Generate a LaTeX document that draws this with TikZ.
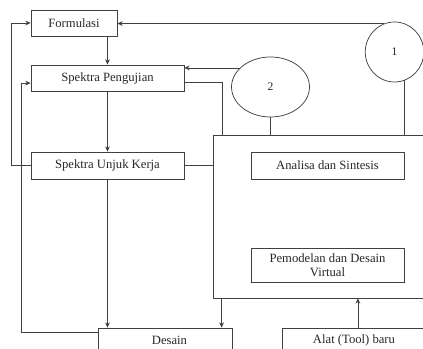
\documentclass[tikz,border=0pt]{standalone}
\usepackage{fontspec}
\setmainfont{Liberation Serif}
\usepackage{xcolor}
\usetikzlibrary{shapes.geometric,arrows.meta}

\begin{document}
\begin{tikzpicture}[
    box/.style={draw=black!75, line width=0.7pt, minimum height=0.87cm,
                align=center, text=black!85, font=\fontsize{12}{13.5}\selectfont},
    bulat/.style={draw=black!75, line width=0.7pt, ellipse, inner sep=0pt,
                  text=black!85, font=\fontsize{11}{13}\selectfont},
    garis/.style={draw=black!75, line width=0.7pt},
    arrow/.style={-{Stealth[length=5pt,width=4.5pt]}, garis}
  ]
    \useasboundingbox (0,0) rectangle (14.1,11.633);
    \clip (0,0) rectangle (14.1,11.633);

    \node[box, minimum width=2.867cm] (form) at (2.467,10.867) {Formulasi};
    \node[box, minimum width=5.1cm] (uji) at (3.583,9.033) {Spektra Pengujian};
    \node[box, minimum width=5.1cm, minimum height=0.9cm] (unjuk) at (3.583,6.117) {Spektra Unjuk Kerja};

    % kotak besar (analisa + pemodelan)
    \node[garis, minimum width=7.567cm, minimum height=5.433cm, inner sep=0pt] (proses) at (10.883,4.417) {};
    \node[box, minimum width=5.1cm, minimum height=0.9cm] (analisa) at (10.917,6.117) {Analisa dan Sintesis};
    \node[box, minimum width=5.1cm, minimum height=1.133cm, inner sep=1pt] (model) at (10.917,2.8) {Pemodelan dan Desain\\Virtual};

    \node[bulat, minimum width=2.6cm, minimum height=2cm] (dua) at (9.017,8.733) {2};
    \node[bulat, minimum width=1.95cm, minimum height=2cm] (satu) at (13.15,9.9) {1};

    \node[box, minimum width=4.467cm, minimum height=0.8cm] (desain) at (5.5,0.3) {\hspace*{0.3cm}Desain};
    \node[box, minimum width=4.8cm, minimum height=0.8cm] (alat) at (11.8,0.3) {Alat (Tool) baru};

    % alur utama
    \draw[arrow] (form.south -| uji.north) -- (uji.north);
    \draw[arrow] (uji) -- (unjuk);
    \draw[arrow] (unjuk.south) -- (unjuk.south |- desain.north);

    % umpan balik kiri
    \draw[arrow] (unjuk.west) -- ++(-0.633,0) |- (form.west);
    \draw[arrow] ([yshift=-0.17cm]desain.north west) -| ([xshift=-0.3cm,yshift=-0.17cm]uji.west) -- ([yshift=-0.17cm]uji.west);

    % sisi kanan
    \draw[arrow] (satu.110) -- (satu.110 -| form.east);
    \draw[arrow] (dua.148) -- (dua.148 -| uji.east);
    \draw[garis] ([yshift=-0.13cm]uji.east) -| ([xshift=0.33cm]proses.north west);
    \draw[garis] (dua.south) -- (dua.south |- proses.north);
    \draw[garis] (satu.-70) -- (satu.-70 |- proses.north);
    \draw[garis] (unjuk.east) -- (unjuk.east -| proses.west);

    % bawah
    \draw[arrow] ([xshift=0.3cm]proses.south west) -- ([xshift=0.3cm]proses.south west |- desain.north);
    \draw[arrow] ([xshift=0.13cm]alat.north) -- ([xshift=0.13cm]alat.north |- proses.south);
  \end{tikzpicture}
\end{document}
